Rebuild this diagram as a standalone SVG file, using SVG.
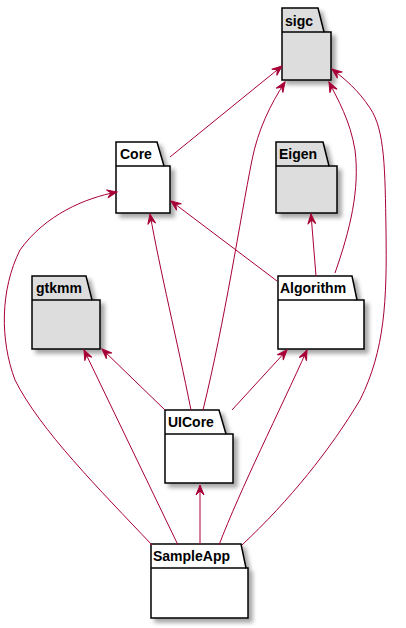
<svg xmlns="http://www.w3.org/2000/svg" width="406" height="628" viewBox="0 0 406 628">
<style>
.pk{stroke:#000;stroke-width:1.5;filter:url(#sh)}
.w{fill:#FFFFFF}
.g{fill:#DDDDDD}
.t{font-family:"Liberation Sans",Arial,sans-serif;font-size:14px;font-weight:bold;fill:#000}
.e{fill:none;stroke:#A80036;stroke-width:1;marker-end:url(#arr)}
</style>
<defs>
<filter id="sh" x="-20%" y="-20%" width="150%" height="150%">
<feDropShadow dx="4" dy="4" stdDeviation="2" flood-color="#000" flood-opacity="0.35"/>
</filter>
<marker id="arr" markerWidth="14" markerHeight="12" viewBox="-12 -6 14 12" refX="0" refY="0" orient="auto" markerUnits="userSpaceOnUse">
<path d="M0,0 L-10,-4 L-6,0 L-10,4 Z" fill="#A80036" stroke="#A80036" stroke-width="1"/>
</marker>
</defs>
<rect width="406" height="628" fill="#FFFFFF"/>
<g id="sigc">
<path class="pk g" d="M282,8 L318,8 L324,32 L331,32 L331,80 L282,80 Z"/>
<path d="M282,32 L324,32" stroke="#000" stroke-width="1.5"/>
<text class="t" x="285" y="26">sigc</text>
</g>
<g id="Core">
<path class="pk w" d="M116,142 L157,142 L164,166 L170,166 L170,213 L116,213 Z"/>
<path d="M116,166 L164,166" stroke="#000" stroke-width="1.5"/>
<text class="t" x="120" y="159">Core</text>
</g>
<g id="Eigen">
<path class="pk g" d="M276,142 L323,142 L329,166 L337,166 L337,213 L276,213 Z"/>
<path d="M276,166 L329,166" stroke="#000" stroke-width="1.5"/>
<text class="t" x="279" y="159">Eigen</text>
</g>
<g id="Algorithm">
<path class="pk w" d="M278,276 L352,276 L357,300 L364,300 L364,349 L278,349 Z"/>
<path d="M278,300 L357,300" stroke="#000" stroke-width="1.5"/>
<text class="t" x="280" y="293">Algorithm</text>
</g>
<g id="gtkmm">
<path class="pk g" d="M32,276 L86,276 L92,300 L100,300 L100,349 L32,349 Z"/>
<path d="M32,300 L92,300" stroke="#000" stroke-width="1.5"/>
<text class="t" x="36" y="293">gtkmm</text>
</g>
<g id="UICore">
<path class="pk w" d="M165,410 L219,410 L226,434 L233,434 L233,483 L165,483 Z"/>
<path d="M165,434 L226,434" stroke="#000" stroke-width="1.5"/>
<text class="t" x="168" y="427">UICore</text>
</g>
<g id="SampleApp">
<path class="pk w" d="M151,544 L241,544 L246,568 L248,568 L248,618 L151,618 Z"/>
<path d="M151,568 L246,568" stroke="#000" stroke-width="1.5"/>
<text class="t" x="153" y="561">SampleApp</text>
</g>
<g id="connectors">
<path class="e" d="M170,157 L282,66"/>
<path class="e" d="M203,410 C225,320 240,220 252,160 C258,130 270,105 285,82"/>
<path class="e" d="M335,273 C350,230 360,190 355,150 C350,120 338,100 329,82"/>
<path class="e" d="M242,545 C290,500 330,450 360,400 C385,350 387,300 386,230 C385,170 385,130 370,108 C358,90 346,80 332,69"/>
<path class="e" d="M152,545 C100,490 40,430 15,380 C0,340 0,290 20,250 C45,215 85,198 117,192"/>
<path class="e" d="M191,410 C177,340 160,270 150,214"/>
<path class="e" d="M277,281 L171,201"/>
<path class="e" d="M316,276 L311,214"/>
<path class="e" d="M165,410 L102,349"/>
<path class="e" d="M178,545 L84,350"/>
<path class="e" d="M232,410 L287,350"/>
<path class="e" d="M219,545 C240,490 280,410 307,350"/>
<path class="e" d="M200,544 L200,485"/>
</g>
</svg>
